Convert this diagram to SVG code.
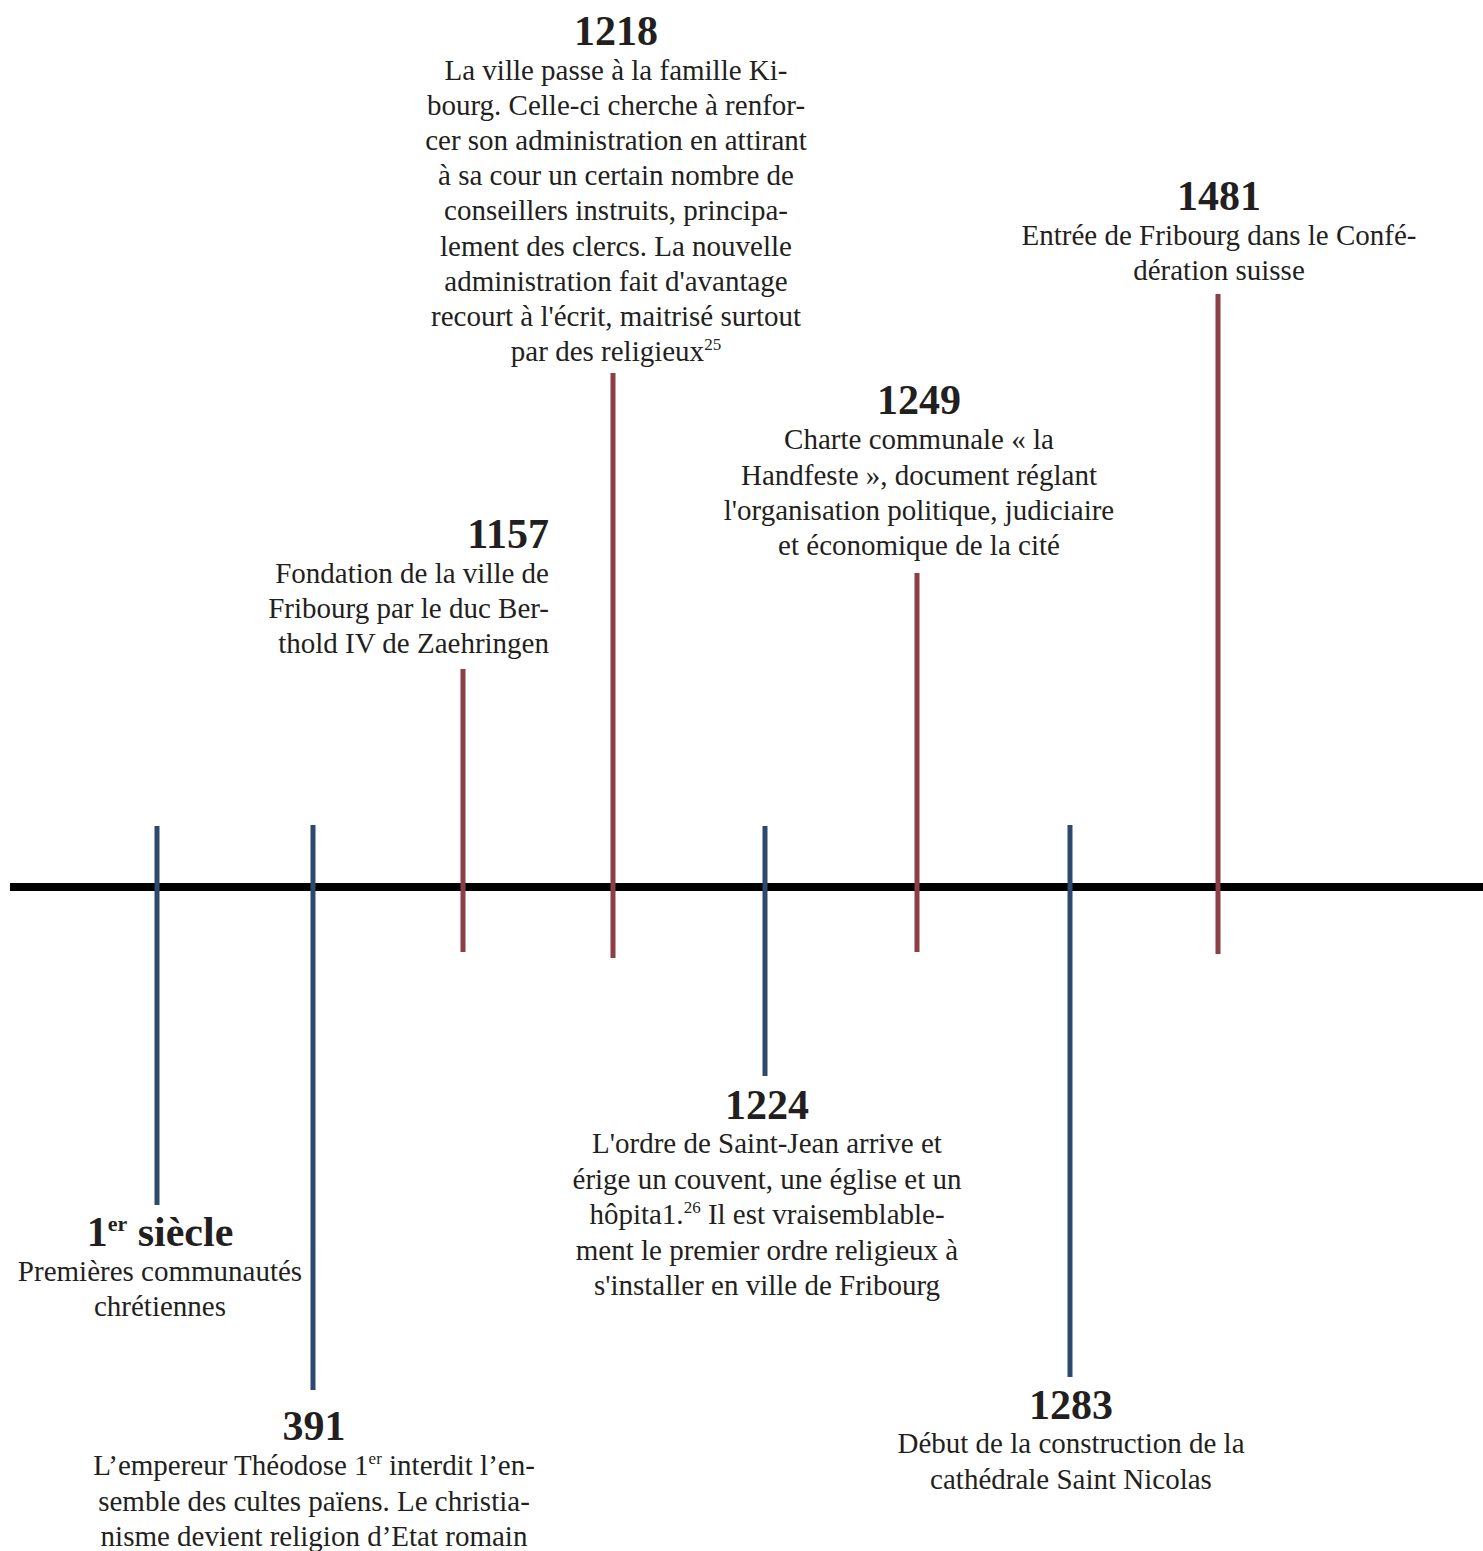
<svg xmlns="http://www.w3.org/2000/svg" width="1483" height="1551" viewBox="0 0 1483 1551">
<style>
.yr{font-family:"Liberation Serif","Times New Roman",serif;font-weight:bold;font-size:42px;fill:#231f20;text-anchor:middle}
.tx{font-family:"Liberation Serif","Times New Roman",serif;font-size:29px;fill:#231f20;text-anchor:middle}
.r{text-anchor:end}
.sup{font-size:17px}
.red{stroke:#8c3f47;stroke-width:5}
.blue{stroke:#2c4a6e;stroke-width:5}
</style>
<rect width="1483" height="1551" fill="#ffffff"/>
<g id="connectors">
<line x1="10" y1="887" x2="1483" y2="887" stroke="#000" stroke-width="8"/>
<line class="blue" x1="157" y1="826" x2="157" y2="1205"/>
<line class="blue" x1="313" y1="825" x2="313" y2="1390"/>
<line class="red" x1="463" y1="669" x2="463" y2="952"/>
<line class="red" x1="613" y1="373" x2="613" y2="958"/>
<line class="blue" x1="765" y1="826" x2="765" y2="1076"/>
<line class="red" x1="917" y1="573" x2="917" y2="952"/>
<line class="blue" x1="1070" y1="825" x2="1070" y2="1377"/>
<line class="red" x1="1218" y1="294" x2="1218" y2="954"/>
</g>
<g id="node-1218">
<text class="yr" x="616" y="45">1218</text>
<text class="tx" x="616" y="80">La ville passe à la famille Ki-</text>
<text class="tx" x="616" y="115">bourg. Celle-ci cherche à renfor-</text>
<text class="tx" x="616" y="150">cer son administration en attirant</text>
<text class="tx" x="616" y="185">à sa cour un certain nombre de</text>
<text class="tx" x="616" y="220">conseillers instruits, principa-</text>
<text class="tx" x="616" y="256">lement des clercs. La nouvelle</text>
<text class="tx" x="616" y="291">administration fait d'avantage</text>
<text class="tx" x="616" y="326">recourt à l'écrit, maitrisé surtout</text>
<text class="tx" x="616" y="361">par des religieux<tspan class="sup" dy="-11">25</tspan></text>
</g>
<g id="node-1481">
<text class="yr" x="1219" y="210">1481</text>
<text class="tx" x="1219" y="245">Entrée de Fribourg dans le Confé-</text>
<text class="tx" x="1219" y="280">dération suisse</text>
</g>
<g id="node-1249">
<text class="yr" x="919" y="414">1249</text>
<text class="tx" x="919" y="449">Charte communale « la</text>
<text class="tx" x="919" y="485">Handfeste », document réglant</text>
<text class="tx" x="919" y="520">l'organisation politique, judiciaire</text>
<text class="tx" x="919" y="555">et économique de la cité</text>
</g>
<g id="node-1157">
<text class="yr r" x="549" y="548">1157</text>
<text class="tx r" x="549" y="583">Fondation de la ville de</text>
<text class="tx r" x="549" y="618">Fribourg par le duc Ber-</text>
<text class="tx r" x="549" y="653">thold IV de Zaehringen</text>
</g>
<g id="node-1er-siecle">
<text class="yr" x="160" y="1246">1<tspan font-size="22" dy="-15">er</tspan><tspan dy="15"> siècle</tspan></text>
<text class="tx" x="160" y="1281">Premières communautés</text>
<text class="tx" x="160" y="1316">chrétiennes</text>
</g>
<g id="node-391">
<text class="yr" x="314" y="1440">391</text>
<text class="tx" x="314" y="1475">L’empereur Théodose 1<tspan class="sup" dy="-11">er</tspan><tspan dy="11"> interdit l’en-</tspan></text>
<text class="tx" x="314" y="1511">semble des cultes païens. Le christia-</text>
<text class="tx" x="314" y="1546">nisme devient religion d’Etat romain</text>
</g>
<g id="node-1224">
<text class="yr" x="767" y="1119">1224</text>
<text class="tx" x="767" y="1153">L'ordre de Saint-Jean arrive et</text>
<text class="tx" x="767" y="1189">érige un couvent, une église et un</text>
<text class="tx" x="767" y="1224">hôpita1.<tspan class="sup" dy="-11">26</tspan><tspan dy="11"> Il est vraisemblable-</tspan></text>
<text class="tx" x="767" y="1260">ment le premier ordre religieux à</text>
<text class="tx" x="767" y="1295">s'installer en ville de Fribourg</text>
</g>
<g id="node-1283">
<text class="yr" x="1071" y="1419">1283</text>
<text class="tx" x="1071" y="1453">Début de la construction de la</text>
<text class="tx" x="1071" y="1489">cathédrale Saint Nicolas</text>
</g>
</svg>
